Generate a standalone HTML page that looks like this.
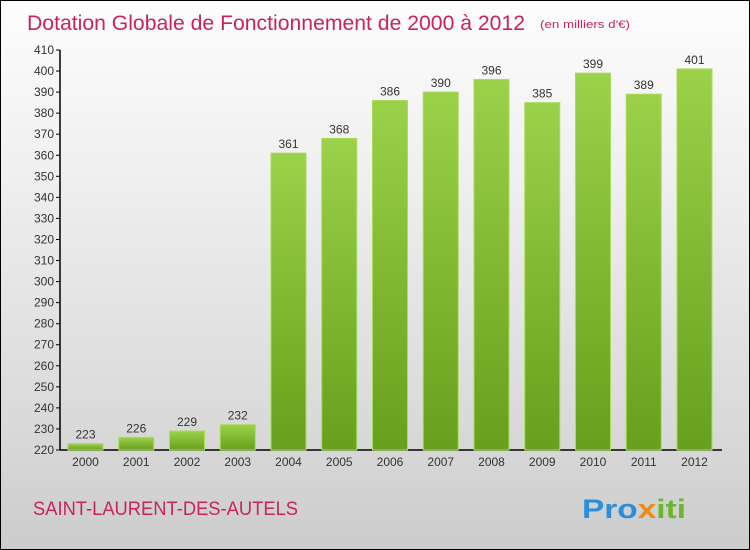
<!DOCTYPE html>
<html><head><meta charset="utf-8"><style>
body{margin:0;width:750px;height:550px;overflow:hidden;font-family:"Liberation Sans",sans-serif}
#wrap{position:absolute;left:0;top:0;width:748px;height:548px;border:1px solid #000;background:linear-gradient(#fdfdfd,#f0f0f0 30%,#d8d8d8 80%,#cccccc)}
</style></head><body>
<div id="wrap">
<svg width="750" height="550" style="position:absolute;left:-1px;top:-1px">
<defs><linearGradient id="g" x1="0" y1="0" x2="0" y2="1"><stop offset="0" stop-color="#9cd14a"/><stop offset="1" stop-color="#66a01c"/></linearGradient></defs>
<text x="27" y="30" font-size="21" fill="#c8245c" textLength="498" lengthAdjust="spacingAndGlyphs">Dotation Globale de Fonctionnement de 2000 à 2012</text>
<text x="540" y="28" font-size="11" fill="#c8245c" textLength="90" lengthAdjust="spacingAndGlyphs">(en milliers d'€)</text>
<g id="axes"></g><g id="bars"></g>
<text x="33" y="515" font-size="19" fill="#c8245c" textLength="265" lengthAdjust="spacingAndGlyphs">SAINT-LAURENT-DES-AUTELS</text>
<text x="582" y="518" font-size="27" font-weight="bold" textLength="104" lengthAdjust="spacingAndGlyphs"><tspan fill="#2a8fd8">Pro</tspan><tspan fill="#f08a10">x</tspan><tspan fill="#6ab82a">iti</tspan></text>
</svg></div>
<script>
const years=["2000","2001","2002","2003","2004","2005","2006","2007","2008","2009","2010","2011","2012"];
const values=[223,226,229,232,361,368,386,390,396,385,399,389,401];
const ticks=[220,230,240,250,260,270,280,290,300,310,320,330,340,350,360,370,380,390,400,410];
const NS="http://www.w3.org/2000/svg";
const y0=450,y1=50,vmin=220,vmax=410,x0=60,step=50.75,bw=35;
const y=v=>y0-(v-vmin)/(vmax-vmin)*(y0-y1);
const xc=i=>85.5+i*step;
function mk(t,a,p){const e=document.createElementNS(NS,t);for(const k in a)e.setAttribute(k,a[k]);p.appendChild(e);return e;}
const ax=document.getElementById('axes'),bg=document.getElementById('bars');
let l=mk('line',{x1:x0,y1:y1,x2:x0,y2:y0,stroke:'#000','stroke-width':1.5},ax);


l=mk('line',{x1:x0,y1:y0,x2:722,y2:y0,stroke:'#000','stroke-width':1.5},ax);


ticks.forEach(t=>{
 mk('line',{x1:x0-4,y1:y(t),x2:x0,y2:y(t),stroke:'#000'},ax);
 const tx=mk('text',{x:x0-6,y:y(t)+4,'font-size':12,'text-anchor':'end',fill:'#333'},ax);tx.textContent=t;
 
 
});
years.forEach((yr,i)=>{
 const v=values[i];
 const r=mk('rect',{x:xc(i)-bw/2,y:y(v),width:bw,height:y0-y(v),fill:'url(#g)',stroke:'#a8dc5a','stroke-width':1},bg);
 
 
 const lt=mk('text',{x:xc(i),y:y(v)-5,'font-size':12,'text-anchor':'middle',fill:'#333'},bg);lt.textContent=v;
 
 
 const xt=mk('text',{x:xc(i),y:466,'font-size':12,'text-anchor':'middle',fill:'#333'},bg);xt.textContent=yr;
 
 
});
</script>
</body></html>
